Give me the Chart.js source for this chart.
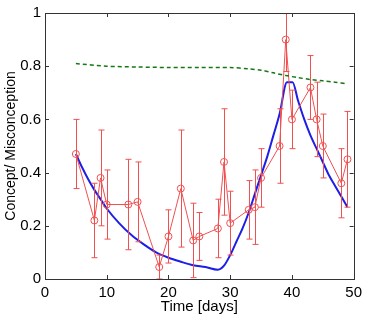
<!DOCTYPE html>
<html>
<head>
    <title>Concept / Misconception</title>
    <style>
        body { margin: 0; background: #fff; }
    </style>
</head>
<body>
    <canvas id="conceptChart" width="367" height="315"></canvas>
    <script src="https://cdn.jsdelivr.net/npm/chart.js"></script>
    <script>
        // observed values with error bars (red)
        const days = [5, 8, 9, 10, 13.5, 15, 18.5, 20, 22, 24, 25, 28, 29, 30, 33, 34, 35, 38, 39, 40, 43, 44, 45, 48, 49];
        const observed = [0.47, 0.22, 0.38, 0.28, 0.28, 0.29, 0.045, 0.16, 0.34, 0.145, 0.16, 0.19, 0.44, 0.21, 0.26, 0.27, 0.38, 0.50, 0.90, 0.60, 0.72, 0.60, 0.50, 0.36, 0.45];
        const errors = [0.13, 0.14, 0.18, 0.13, 0.17, 0.15, 0.045, 0.10, 0.22, 0.14, 0.09, 0.11, 0.20, 0.12, 0.11, 0.14, 0.11, 0.14, 0.12, 0.11, 0.12, 0.14, 0.12, 0.13, 0.18];

        // model curve (blue)
        const modelDays = [5, 6, 7, 8, 9, 10, 12, 14, 16, 18, 20, 22, 24, 26, 28, 29, 30, 31, 32, 33, 34, 35, 36, 37, 38, 39.2, 40.1, 41, 42, 43, 44, 45, 46, 47, 48, 49];
        const modelValues = [0.47, 0.42, 0.375, 0.335, 0.30, 0.265, 0.21, 0.165, 0.13, 0.10, 0.08, 0.065, 0.052, 0.045, 0.035, 0.05, 0.09, 0.14, 0.19, 0.25, 0.32, 0.39, 0.46, 0.54, 0.62, 0.74, 0.74, 0.67, 0.60, 0.54, 0.49, 0.44, 0.39, 0.35, 0.31, 0.27];

        // baseline (green dashed)
        const baseDays = [5, 10, 15, 20, 25, 30, 33, 35, 37, 39, 41, 43, 45, 47, 49];
        const baseValues = [0.81, 0.80, 0.797, 0.795, 0.795, 0.795, 0.79, 0.785, 0.775, 0.765, 0.757, 0.75, 0.745, 0.74, 0.733];

        const xTicks = [0, 10, 20, 30, 40, 50];
        const yTicks = [0, 0.2, 0.4, 0.6, 0.8, 1];

        const red = 'rgb(240, 80, 80)';
        const font = { family: '"Liberation Sans", Arial, sans-serif', size: 15 };

        const pts = (xs, ys) => xs.map((x, i) => ({ x: x, y: ys[i] }));

        const errorBars = {
            id: 'errorBars',
            afterDatasetDraw(chart, args) {
                if (args.index !== 1) return;
                const ctx = chart.ctx, a = chart.chartArea;
                const xs = chart.scales.x, ys = chart.scales.y;
                ctx.save();
                ctx.beginPath();
                ctx.rect(a.left, a.top, a.right - a.left, a.bottom - a.top);
                ctx.clip();
                ctx.strokeStyle = red;
                ctx.lineWidth = 1;
                days.forEach((d, i) => {
                    const px = Math.round(xs.getPixelForValue(d)) + 0.5;
                    const top = ys.getPixelForValue(observed[i] + errors[i]);
                    const bot = ys.getPixelForValue(observed[i] - errors[i]);
                    ctx.beginPath();
                    ctx.moveTo(px, top); ctx.lineTo(px, bot);
                    ctx.moveTo(px - 3, top); ctx.lineTo(px + 3, top);
                    ctx.moveTo(px - 3, bot); ctx.lineTo(px + 3, bot);
                    ctx.stroke();
                });
                ctx.restore();
            }
        };

        const frame = {
            id: 'frame',
            afterDraw(chart) {
                const ctx = chart.ctx, a = chart.chartArea;
                const xs = chart.scales.x, ys = chart.scales.y;
                ctx.save();
                ctx.strokeStyle = '#333';
                ctx.lineWidth = 1;
                ctx.strokeRect(Math.round(a.left) + 0.5, Math.round(a.top) + 0.5,
                    Math.round(a.right - a.left), Math.round(a.bottom - a.top));
                ctx.beginPath();
                xTicks.forEach(t => {
                    const px = Math.round(xs.getPixelForValue(t)) + 0.5;
                    ctx.moveTo(px, a.bottom); ctx.lineTo(px, a.bottom - 4);
                    ctx.moveTo(px, a.top); ctx.lineTo(px, a.top + 4);
                });
                yTicks.forEach(t => {
                    const py = Math.round(ys.getPixelForValue(t)) + 0.5;
                    ctx.moveTo(a.left, py); ctx.lineTo(a.left + 4, py);
                    ctx.moveTo(a.right, py); ctx.lineTo(a.right - 4, py);
                });
                ctx.stroke();
                ctx.restore();
            }
        };

        new Chart(document.getElementById('conceptChart'), {
            type: 'scatter',
            data: {
                datasets: [
                    {
                        label: 'baseline',
                        data: pts(baseDays, baseValues),
                        showLine: true,
                        borderColor: 'rgb(20, 120, 20)',
                        borderWidth: 1.5,
                        borderDash: [4, 3],
                        pointRadius: 0,
                        tension: 0.3
                    },
                    {
                        label: 'observed',
                        data: pts(days, observed),
                        showLine: true,
                        borderColor: red,
                        borderWidth: 1,
                        pointRadius: 3.5,
                        pointBorderColor: red,
                        pointBackgroundColor: 'rgba(0,0,0,0)',
                        pointBorderWidth: 1,
                        tension: 0
                    },
                    {
                        label: 'model',
                        data: pts(modelDays, modelValues),
                        showLine: true,
                        borderColor: 'rgb(30, 30, 230)',
                        borderWidth: 2,
                        pointRadius: 0,
                        cubicInterpolationMode: 'monotone'
                    }
                ]
            },
            options: {
                responsive: false,
                animation: false,
                layout: { padding: { top: 10, right: 10, left: 0, bottom: 0 } },
                plugins: { legend: { display: false }, tooltip: { enabled: false } },
                scales: {
                    x: {
                        type: 'linear', min: 0, max: 50,
                        afterBuildTicks: s => { s.ticks = xTicks.map(v => ({ value: v })); },
                        afterFit: s => { s.height = 36; },
                        grid: { display: false, drawTicks: false, tickLength: 0 },
                        border: { display: false },
                        ticks: { color: '#000', font: font, padding: 5, maxRotation: 0 },
                        title: { display: true, text: 'Time [days]', color: '#000', font: font, padding: { top: -4, bottom: -1 } }
                    },
                    y: {
                        min: 0, max: 1,
                        afterBuildTicks: s => { s.ticks = yTicks.map(v => ({ value: v })); },
                        afterFit: s => { s.width = 45; },
                        grid: { display: false, drawTicks: false, tickLength: 0 },
                        border: { display: false },
                        ticks: {
                            color: '#000', font: font, padding: 4,
                            callback: v => (v === 0 || v === 1) ? String(v) : v.toFixed(1)
                        },
                        title: { display: true, text: 'Concept/ Misconception', color: '#000', font: { family: font.family, size: 14 }, padding: { top: 3, bottom: 0 } }
                    }
                }
            },
            plugins: [errorBars, frame]
        });
    </script>
</body>
</html>
